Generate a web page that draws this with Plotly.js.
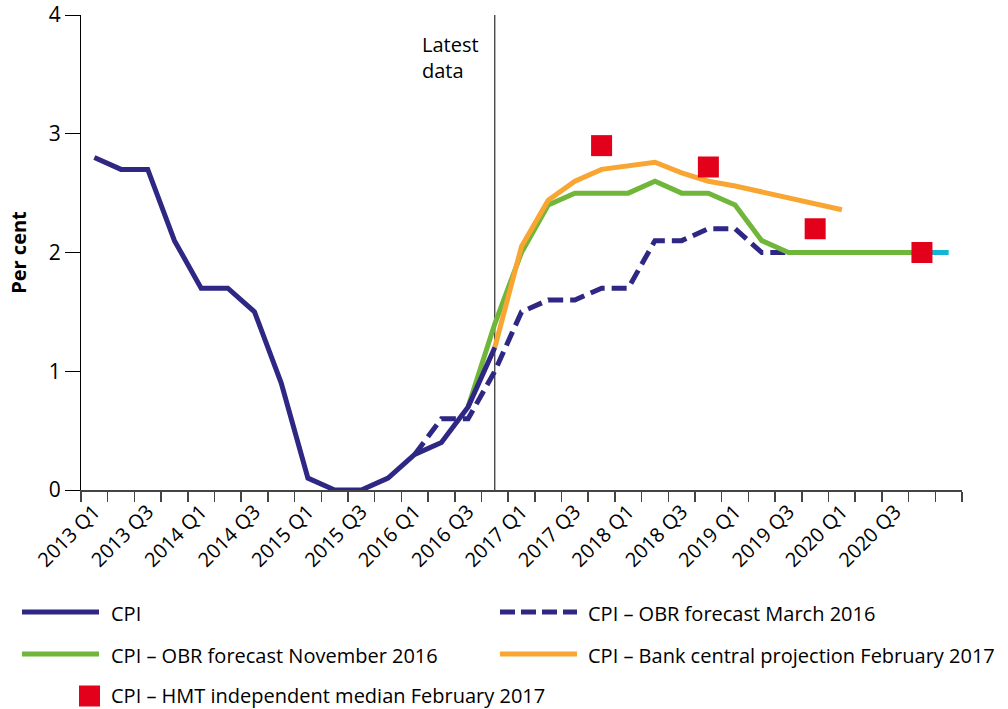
<!DOCTYPE html>
<html>
<head>
<meta charset="utf-8">
<script src="https://cdn.plot.ly/plotly-3.0.1.min.js"></script>
<style>html,body{margin:0;padding:0;background:#fff;}#chart{width:1008px;height:709px;}</style>
</head>
<body>
<div id="chart"></div>
<script>
// ---- Data ----
const quarters = ["2013 Q1","2013 Q2","2013 Q3","2013 Q4","2014 Q1","2014 Q2","2014 Q3","2014 Q4",
  "2015 Q1","2015 Q2","2015 Q3","2015 Q4","2016 Q1","2016 Q2","2016 Q3","2016 Q4",
  "2017 Q1","2017 Q2","2017 Q3","2017 Q4","2018 Q1","2018 Q2","2018 Q3","2018 Q4",
  "2019 Q1","2019 Q2","2019 Q3","2019 Q4","2020 Q1","2020 Q2","2020 Q3","2020 Q4","2021 Q1"];
const tickLabels = ["2013 Q1","2013 Q3","2014 Q1","2014 Q3","2015 Q1","2015 Q3","2016 Q1","2016 Q3",
  "2017 Q1","2017 Q3","2018 Q1","2018 Q3","2019 Q1","2019 Q3","2020 Q1","2020 Q3"];

const cpiStart = "2013 Q1";
const cpi = [2.8,2.7,2.7,2.1,1.7,1.7,1.5,0.9,0.1,0.0,0.0,0.1,0.3,0.4,0.7,1.2];

const obrMar16Start = "2016 Q1";
const obrMar16 = [0.3,0.6,0.6,1.0,1.5,1.6,1.6,1.7,1.7,2.1,2.1,2.2,2.2,2.0,2.0,2.0,2.0,2.0,2.0,2.0];

const obrNov16Start = "2016 Q3";
const obrNov16 = [0.7,1.4,2.0,2.4,2.5,2.5,2.5,2.6,2.5,2.5,2.4,2.1,2.0,2.0,2.0,2.0,2.0,2.0];

const bankStart = "2016 Q4";
const bankFeb17 = [1.2,2.05,2.44,2.6,2.7,2.73,2.76,2.67,2.6,2.56,2.51,2.46,2.41,2.36];

const hmtQuarters = ["2017 Q4","2018 Q4","2019 Q4","2020 Q4"];
const hmtFeb17 = [2.9,2.72,2.2,2.0];

const tailQuarters = ["2020 Q4","2021 Q1"];
const tailValues = [2.0,2.0];

const latestQuarter = "2016 Q4";
const names = ["CPI","CPI – OBR forecast March 2016","CPI – OBR forecast November 2016",
  "CPI – Bank central projection February 2017","CPI – HMT independent median February 2017"];

// ---- Helpers ----
const idx = q => quarters.indexOf(q);
const xsFrom = (start, arr) => arr.map((_, i) => idx(start) + i);

const NAVY = "#2e2784", GREEN = "#6fb63a", ORANGE = "#f9a532", RED = "#e2001a", CYAN = "#13b4d5";
const FONT = "Open Sans, Liberation Sans, sans-serif";

const traces = [
  {x: xsFrom(obrMar16Start, obrMar16), y: obrMar16, mode: "lines", name: names[1],
   line: {color: NAVY, width: 5, dash: "15px,7px"}, showlegend: false, hoverinfo: "skip"},
  {x: xsFrom(obrNov16Start, obrNov16), y: obrNov16, mode: "lines", name: names[2],
   line: {color: GREEN, width: 5}, showlegend: false, hoverinfo: "skip"},
  {x: xsFrom(bankStart, bankFeb17), y: bankFeb17, mode: "lines", name: names[3],
   line: {color: ORANGE, width: 5}, showlegend: false, hoverinfo: "skip"},
  {x: xsFrom(cpiStart, cpi), y: cpi, mode: "lines", name: names[0],
   line: {color: NAVY, width: 5}, showlegend: false, hoverinfo: "skip"},
  {x: tailQuarters.map(idx), y: tailValues, mode: "lines",
   line: {color: CYAN, width: 5}, showlegend: false, hoverinfo: "skip"},
  {x: hmtQuarters.map(idx), y: hmtFeb17, mode: "markers", name: names[4],
   marker: {symbol: "square", size: 21, color: RED, line: {width: 0}}, showlegend: false, hoverinfo: "skip"}
];

// plot area in pixels: left 81, right 962, top 15, bottom 490
const PL = 81, PR = 962, PT = 15, PB = 490;
const px2x = px => (px - PL) / (PR - PL);
const py2y = py => (PB - py) / (PB - PT);

const legendItems = [
  {name: names[0], kind: "line", color: NAVY, dash: "solid", lx: 22, tx: 110, row: 612},
  {name: names[1], kind: "line", color: NAVY, dash: "15px,6px", lx: 500, tx: 587, row: 612},
  {name: names[2], kind: "line", color: GREEN, dash: "solid", lx: 22, tx: 110, row: 654},
  {name: names[3], kind: "line", color: ORANGE, dash: "solid", lx: 500, tx: 587, row: 654},
  {name: names[4], kind: "square", color: RED, lx: 79, tx: 110, row: 695.5}
];

const shapes = [
  {type: "line", xref: "x", yref: "y", x0: idx(latestQuarter), x1: idx(latestQuarter), y0: 0, y1: 4,
   line: {color: "#000", width: 1}, layer: "below"}
];
const annotations = [
  {xref: "x", yref: "y", x: idx(latestQuarter), y: 4, xanchor: "right", yanchor: "top",
   xshift: -14, yshift: -14, align: "left", showarrow: false, text: "Latest<br>data",
   font: {family: FONT, size: 20, color: "#000"}}
];
legendItems.forEach(it => {
  if (it.kind === "line") {
    shapes.push({type: "line", xref: "paper", yref: "paper",
      x0: px2x(it.lx), x1: px2x(it.lx + 77), y0: py2y(it.row), y1: py2y(it.row),
      line: {color: it.color, width: 5, dash: it.dash}});
  } else {
    shapes.push({type: "rect", xref: "paper", yref: "paper",
      x0: px2x(it.lx), x1: px2x(it.lx + 21), y0: py2y(it.row - 10), y1: py2y(it.row + 11),
      fillcolor: it.color, line: {width: 0}});
  }
  annotations.push({xref: "paper", yref: "paper", x: px2x(it.tx), y: py2y(Math.min(it.row + 1, 695.5)),
    xanchor: "left", yanchor: "middle", showarrow: false, text: it.name, borderpad: 0,
    font: {family: FONT, size: 20, color: "#000"}});
});

const layout = {
  width: 1008, height: 709,
  margin: {l: PL, r: 1008 - PR, t: PT, b: 709 - PB, pad: 0},
  paper_bgcolor: "#fff", plot_bgcolor: "#fff",
  font: {family: FONT, size: 20, color: "#000"},
  showlegend: false,
  xaxis: {
    range: [-0.5, quarters.length - 0.5], autorange: false,
    tickmode: "array", tickvals: tickLabels.map(idx), ticktext: tickLabels,
    tickangle: -45, ticks: "", showgrid: false, zeroline: false,
    showline: true, linecolor: "#444", linewidth: 2,
    tickfont: {family: FONT, size: 20, color: "#000"},
    minor: {tick0: -0.5, dtick: 1, ticks: "outside", ticklen: 10, tickwidth: 1.5, tickcolor: "#444", showgrid: false},
    fixedrange: true
  },
  yaxis: {
    range: [0, 4], autorange: false, tickmode: "array", tickvals: [0,1,2,3,4],
    ticks: "outside", ticklen: 15, tickwidth: 1, tickcolor: "#000",
    showline: true, linecolor: "#000", linewidth: 1, showgrid: false, zeroline: false,
    tickfont: {family: FONT, size: 21, color: "#000"},
    title: {text: "<b>Per cent</b>", standoff: 16, font: {family: FONT, size: 20, color: "#000"}},
    fixedrange: true
  },
  shapes: shapes,
  annotations: annotations
};

Plotly.newPlot("chart", traces, layout, {displayModeBar: false, staticPlot: true});
</script>
</body>
</html>
